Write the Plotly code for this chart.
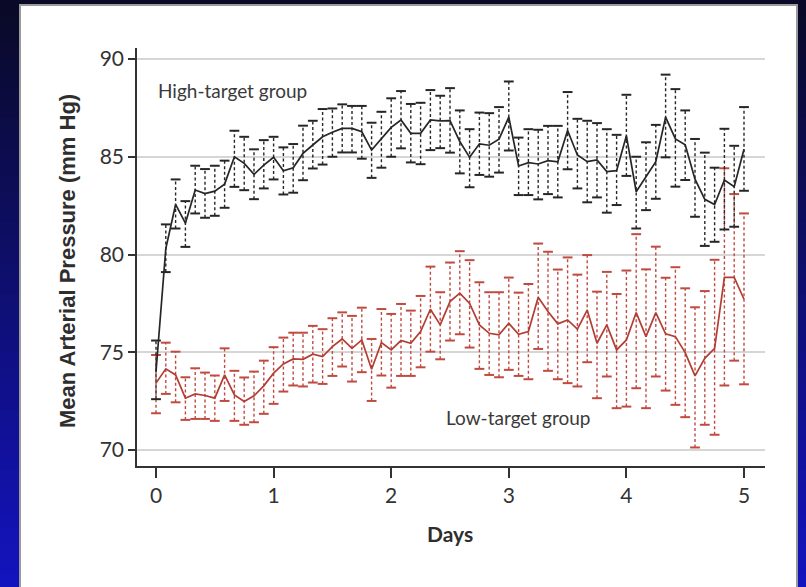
import plotly.graph_objects as go

# ---------------- data ----------------
hours = list(range(0, 121, 2))          # measurement every 2 h over 5 days
days = [h / 24 for h in hours]

high_mean = [74.0, 80.3, 82.56, 81.6, 83.3, 83.12, 83.24, 83.6, 85.0, 84.66,
             84.1, 84.57, 84.97, 84.28, 84.44, 85.17, 85.6, 86.02, 86.25, 86.45,
             86.45, 86.28, 85.34, 85.94, 86.5, 86.88, 86.2, 86.2, 86.88, 86.84,
             86.85, 85.78, 84.97, 85.66, 85.59, 85.9, 87.03, 84.53, 84.7, 84.63,
             84.8, 84.74, 86.34, 85.09, 84.75, 84.84, 84.24, 84.29, 86.07, 83.21,
             83.98, 84.75, 87.03, 85.91, 85.61, 83.85, 82.82, 82.56, 83.81, 83.47,
             85.38]
high_upper = [75.6, 81.54, 83.84, 82.73, 84.54, 84.37, 84.54, 84.8, 86.33, 86.02,
              85.38, 85.85, 86.02, 85.48, 85.65, 86.59, 86.84, 87.44, 87.47, 87.68,
              87.6, 87.6, 86.74, 87.3, 87.99, 88.36, 87.7, 87.76, 88.41, 88.12,
              88.51, 87.37, 86.41, 87.26, 87.23, 87.54, 88.85, 85.98, 86.41, 86.38,
              86.58, 86.58, 88.31, 86.94, 86.84, 86.72, 86.41, 86.12, 88.17, 85.0,
              85.74, 86.63, 89.2, 88.46, 87.37, 85.91, 85.21, 84.44, 86.43, 85.56,
              87.54]
high_lower = [72.6, 79.1, 81.33, 80.39, 82.1, 81.88, 81.98, 82.39, 83.46, 83.29,
              82.83, 83.38, 83.84, 83.07, 83.16, 83.8, 84.4, 84.6, 85.0, 85.22,
              85.22, 84.9, 83.92, 84.44, 85.0, 85.43, 84.71, 84.62, 85.34, 85.44,
              85.21, 84.15, 83.44, 84.07, 83.98, 84.19, 85.32, 83.04, 83.04, 82.82,
              83.09, 82.92, 84.36, 83.38, 82.67, 82.92, 82.14, 82.53, 84.02, 81.33,
              82.27, 82.85, 84.97, 83.47, 83.81, 81.93, 80.44, 80.65, 81.28, 81.42,
              83.26]

low_mean = [73.42, 74.15, 73.84, 72.65, 72.87, 72.79, 72.65, 73.84, 72.82, 72.48,
            72.77, 73.28, 73.93, 74.4, 74.66, 74.64, 74.9, 74.78, 75.29, 75.68,
            75.2, 75.63, 74.13, 75.49, 75.12, 75.6, 75.46, 76.06, 77.2, 76.4,
            77.59, 78.02, 77.5, 76.4, 75.97, 75.89, 76.48, 75.92, 76.06, 77.81,
            77.08, 76.45, 76.65, 76.18, 77.16, 75.46, 76.4, 75.12, 75.63, 77.03,
            75.8, 77.03, 75.94, 75.8, 74.98, 73.79, 74.69, 75.2, 78.83, 78.83,
            77.71]
low_upper = [74.86, 75.49, 75.03, 73.72, 74.18, 73.96, 73.81, 75.2, 74.05, 73.71,
             74.01, 74.57, 75.26, 75.75, 76.0, 76.0, 76.35, 76.18, 76.74, 77.04,
             76.86, 77.28, 75.68, 77.21, 76.96, 77.47, 77.13, 77.88, 79.38, 78.07,
             79.59, 80.17, 79.71, 78.58, 78.07, 78.07, 78.82, 78.05, 78.49, 80.56,
             80.14, 79.23, 79.85, 78.97, 79.97, 78.1, 79.11, 77.98, 79.18, 81.04,
             79.24, 80.4, 78.81, 79.35, 78.27, 77.3, 78.13, 79.73, 84.41, 83.09,
             82.1]
low_lower = [71.88, 72.87, 72.44, 71.54, 71.59, 71.59, 71.49, 72.51, 71.49, 71.29,
             71.42, 71.85, 72.36, 72.99, 73.3, 73.25, 73.45, 73.38, 73.79, 74.27,
             73.5, 73.98, 72.51, 73.81, 73.19, 73.79, 73.79, 74.23, 75.03, 74.64,
             75.6, 75.92, 75.24, 74.15, 73.84, 73.72, 74.1, 73.79, 73.62, 75.17,
             74.05, 73.62, 73.42, 73.25, 74.49, 72.65, 73.76, 72.14, 72.22, 73.16,
             72.14, 73.76, 73.04, 72.31, 71.68, 70.13, 71.29, 70.78, 73.3, 74.57,
             73.36]

x_ticks = [0, 1, 2, 3, 4, 5]
y_ticks = [70, 75, 80, 85, 90]

# ---------------- layout geometry (pixels) ----------------
W, H = 806, 587
L, R, T, B = 137, 765, 48, 466


def pxx(x):
    return (x - L) / (R - L)


def pxy(y):
    return (B - y) / (B - T)


BLACK = "#262626"
RED = "#b23d33"
RED_BAR = "#c04a40"

fig = go.Figure()


def bar_trace(x, lo, hi, color):
    xs, ys = [], []
    for xi, l, h in zip(x, lo, hi):
        xs += [xi, xi, None]
        ys += [l, h, None]
    return go.Scatter(x=xs, y=ys, mode="lines", hoverinfo="skip", showlegend=False,
                      line=dict(color=color, width=1.4, dash="3px,2.5px"))


def cap_trace(x, vals, color):
    return go.Scatter(x=x, y=vals, mode="markers", hoverinfo="skip", showlegend=False,
                      marker=dict(symbol="line-ew", size=7,
                                  line=dict(color=color, width=2)))


fig.add_trace(bar_trace(days, low_lower, low_upper, RED_BAR))
fig.add_trace(cap_trace(days, low_upper, RED_BAR))
fig.add_trace(cap_trace(days, low_lower, RED_BAR))
fig.add_trace(bar_trace(days, high_lower, high_upper, BLACK))
fig.add_trace(cap_trace(days, high_upper, BLACK))
fig.add_trace(cap_trace(days, high_lower, BLACK))
fig.add_trace(go.Scatter(x=days, y=low_mean, mode="lines", showlegend=False,
                         line=dict(color=RED, width=1.7), name="Low-target group"))
fig.add_trace(go.Scatter(x=days, y=high_mean, mode="lines", showlegend=False,
                         line=dict(color=BLACK, width=1.7), name="High-target group"))

# ---------------- background: blue gradient + white panel ----------------
shapes = []
n = 40
c0 = (10, 10, 40)
c1 = (20, 20, 190)
for k in range(n):
    t = k / (n - 1)
    c = tuple(int(c0[j] + (c1[j] - c0[j]) * t) for j in range(3))
    y0 = H * k / n
    y1 = H * (k + 1) / n + 1
    shapes.append(dict(type="rect", xref="paper", yref="paper", layer="below",
                       x0=pxx(0), x1=pxx(W), y0=pxy(y1), y1=pxy(y0),
                       fillcolor="rgb(%d,%d,%d)" % c, line=dict(width=0)))
shapes.append(dict(type="rect", xref="paper", yref="paper", layer="below",
                   x0=pxx(20), x1=pxx(797), y0=pxy(H + 5), y1=pxy(5),
                   fillcolor="white", line=dict(color="#9a9a9a", width=2)))

tickfam = "Lato, Open Sans, sans-serif"

fig.update_layout(
    width=W, height=H,
    margin=dict(l=L, r=W - R, t=T, b=H - B, pad=0),
    paper_bgcolor="#0a0a28",
    plot_bgcolor="white",
    shapes=shapes,
    showlegend=False,
    xaxis=dict(range=[(L - 156) / 117.6, (R - 156) / 117.6],
               tickvals=x_ticks, ticktext=[str(v) for v in x_ticks],
               ticks="outside", ticklen=10, tickwidth=1.5, tickcolor="#333",
               showline=True, linecolor="#333", linewidth=1.5,
               showgrid=False, zeroline=False,
               tickfont=dict(family=tickfam, size=21, color="#333")),
    yaxis=dict(range=[70 - (B - 450) / 19.55, 90 + (59 - T) / 19.55],
               tickvals=y_ticks, ticktext=[str(v) for v in y_ticks],
               ticks="outside", ticklen=7, tickwidth=1.5, tickcolor="#333",
               showline=True, linecolor="#333", linewidth=1.5,
               showgrid=True, gridcolor="#d6d6d6", gridwidth=2, zeroline=False,
               tickfont=dict(family=tickfam, size=21, color="#333")),
    annotations=[
        dict(text="High-target group", x=0.0, y=88.41, xref="x", yref="y",
             xanchor="left", yanchor="middle", showarrow=False,
             font=dict(family="Lato, Open Sans, sans-serif", size=19, color="#3a3a3a")),
        dict(text="Low-target group", x=2.45, y=71.64, xref="x", yref="y",
             xanchor="left", yanchor="middle", showarrow=False,
             font=dict(family="Lato, Open Sans, sans-serif", size=19, color="#3a3a3a")),
        dict(text="<b>Mean Arterial Pressure (mm Hg)</b>", x=pxx(67), y=pxy(261),
             xref="paper", yref="paper", textangle=-90, showarrow=False,
             xanchor="center", yanchor="middle",
             font=dict(family="Liberation Sans, Arial", size=22, color="#2e2e2e")),
        dict(text="<b>Days</b>", x=pxx(450), y=pxy(533), xref="paper", yref="paper",
             showarrow=False, xanchor="center", yanchor="middle",
             font=dict(family="Lato, Open Sans, sans-serif", size=21, color="#2e2e2e")),
    ],
)

fig.write_html("out.html")
